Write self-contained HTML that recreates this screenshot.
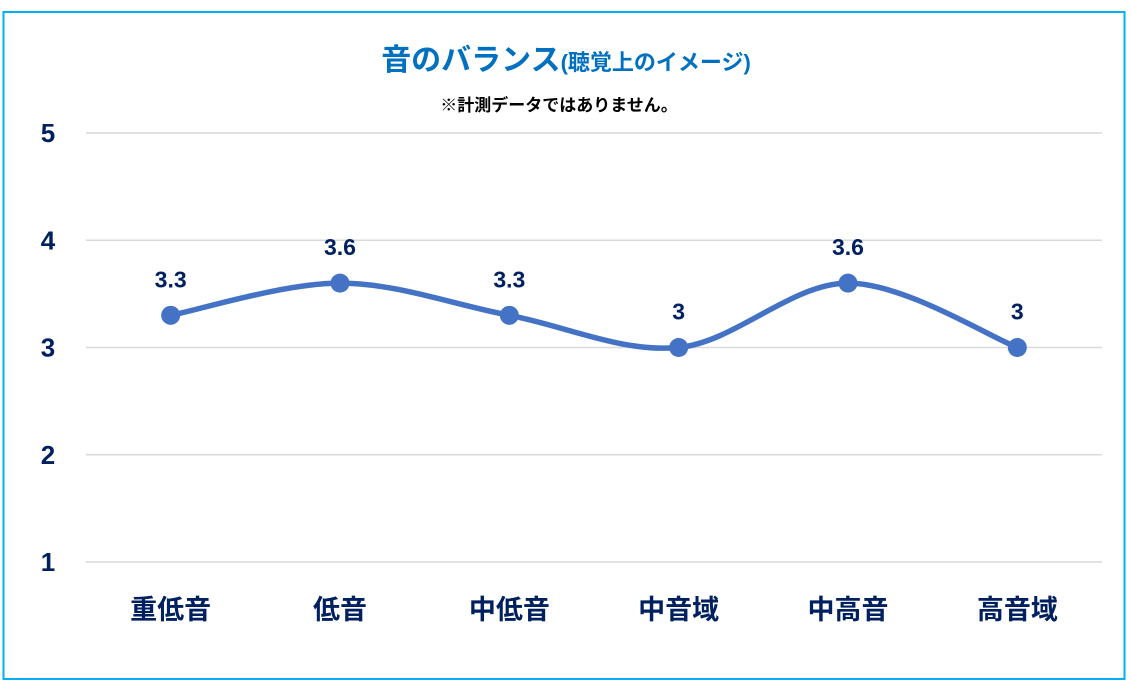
<!DOCTYPE html>
<html><head><meta charset="utf-8"><style>
body{margin:0;background:#fff;width:1132px;height:684px;overflow:hidden}
svg{display:block;font-family:"Liberation Sans","Noto Sans CJK JP",sans-serif}
</style></head><body>
<svg id="c" width="1132" height="684">
<rect x="3.5" y="12" width="1121" height="667" fill="#fff" stroke="#00b0f0" stroke-width="2"/>
<text x="566" y="70" text-anchor="middle" fill="#0070c0" font-weight="bold"><tspan font-size="30">音のバランス</tspan><tspan font-size="22">(聴覚上のイメージ)</tspan></text>
<text x="559" y="111" text-anchor="middle" fill="#000" font-weight="bold" font-size="17">※計測データではありません。</text>
<g id="grid"></g><g id="ylab"></g><g id="xlab"></g><g id="series"></g>
</svg>
<script>
const categories=["重低音","低音","中低音","中音域","中高音","高音域"];
const values=[3.3,3.6,3.3,3,3.6,3];
const valueLabels=["3.3","3.6","3.3","3","3.6","3"];
const yTicks=[1,2,3,4,5];
const NS="http://www.w3.org/2000/svg";
const x0=86,x1=1102,y=v=>562-(v-1)*107.25;
const step=(x1-x0)/categories.length;
const x=i=>x0+step*(i+0.5);
function mk(t,a,p){const e=document.createElementNS(NS,t);for(const k in a)e.setAttribute(k,a[k]);p.appendChild(e);return e;}
const g=document.getElementById('grid'),yl=document.getElementById('ylab'),xl=document.getElementById('xlab'),s=document.getElementById('series');
yTicks.forEach(t=>{
 const l=mk('line',{x1:x0,x2:x1,y1:y(t),y2:y(t),stroke:'#d9d9d9','stroke-width':1.5},g);
 
 
 const tx=mk('text',{x:48,y:y(t)+9,'text-anchor':'middle','font-size':26,'font-weight':'bold',fill:'#002060'},yl);
 tx.textContent=t;
 
 
});
categories.forEach((c,i)=>{
 const tx=mk('text',{x:x(i),y:619,'text-anchor':'middle','font-size':27,'font-weight':'bold',fill:'#002060'},xl);
 tx.textContent=c;
 
 
});
const P=values.map((v,i)=>[x(i),y(v)]);
let d='M'+P[0][0]+','+P[0][1];
for(let i=0;i<P.length-1;i++){
 const p0=P[Math.max(0,i-1)],p1=P[i],p2=P[i+1],p3=P[Math.min(P.length-1,i+2)];
 const t=1/6;
 d+=' C'+(p1[0]+(p2[0]-p0[0])*t)+','+(p1[1]+(p2[1]-p0[1])*t)+' '+(p2[0]-(p3[0]-p1[0])*t)+','+(p2[1]-(p3[1]-p1[1])*t)+' '+p2[0]+','+p2[1];
}
const path=mk('path',{d:d,fill:'none',stroke:'#4472c4','stroke-width':5.5,'stroke-linecap':'round'},s);


P.forEach((p,i)=>{
 const c=mk('circle',{cx:p[0],cy:p[1],r:9.5,fill:'#4472c4'},s);
 
 
 const t=mk('text',{x:p[0],y:p[1]-28,'text-anchor':'middle','font-size':23,'font-weight':'bold',fill:'#002060'},s);
 t.textContent=valueLabels[i];
 
 
});
</script>
</body></html>
